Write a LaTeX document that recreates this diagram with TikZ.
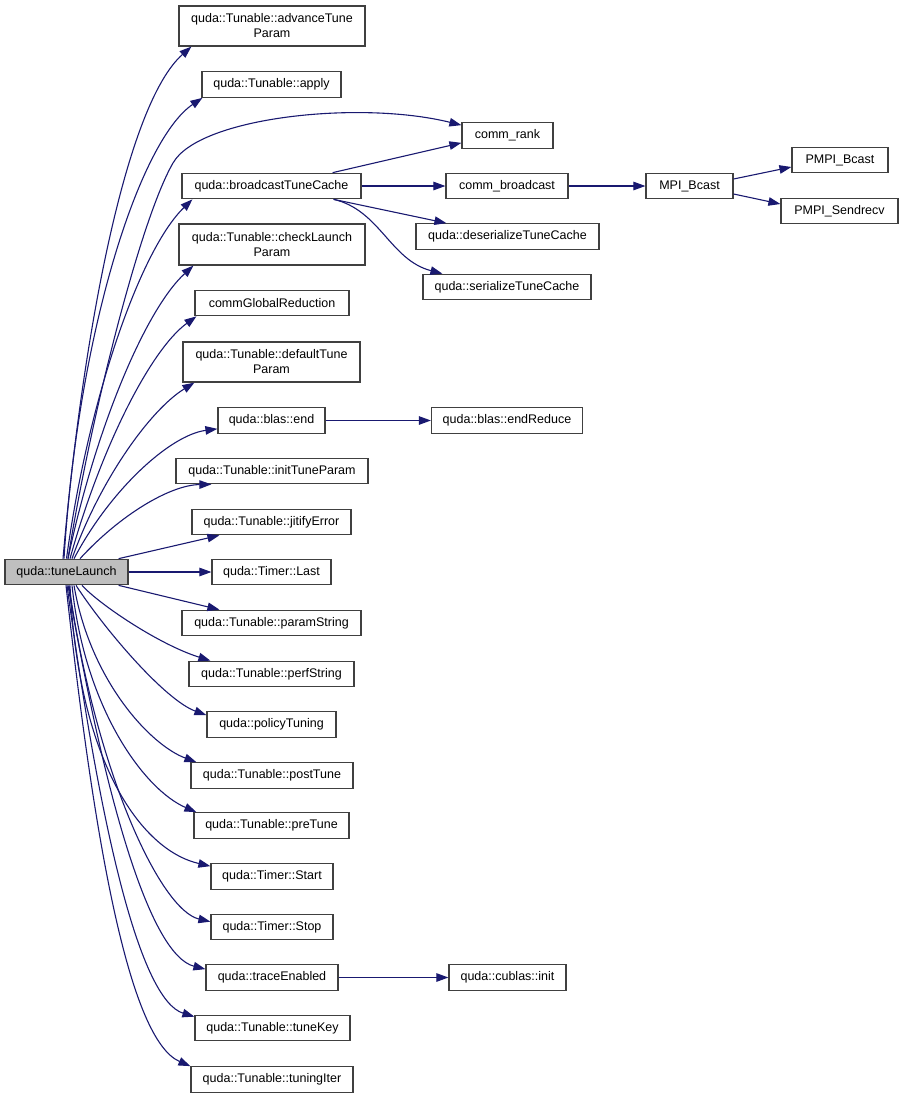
\documentclass[tikz,border=0pt]{standalone}
\usepackage{fontspec}
\setmainfont{Liberation Sans}
\usepackage{tikz}
\usetikzlibrary{arrows.meta}
\definecolor{edgeblue}{RGB}{25,25,112}

\begin{document}
\begin{tikzpicture}[x=1pt, y=-1pt,
  fn/.style = {draw=black!75, line width=1.2pt, rectangle, inner sep=0pt,
    minimum height=25.5pt, font=\fontsize{12.5}{15}\selectfont, align=center},
  calls/.style = {draw=edgeblue, line width=1.1pt, -{Triangle[length=12pt,width=8.5pt]}}]
\useasboundingbox (0,0) rectangle (903,1098);

% caller
\node[fn, fill=black!25, minimum width=123] (launch) at (66.5,572) {quda::tuneLaunch};

% callees
\node[fn, minimum width=186, minimum height=40] (advTune) at (272,26) {quda::Tunable::advanceTune\\Param};
\node[fn, minimum width=139] (apply) at (271.5,84.5) {quda::Tunable::apply};
\node[fn, minimum width=91] (commRank) at (507.5,135.5) {comm\_rank};
\node[fn, minimum width=179] (bcastCache) at (271.5,186) {quda::broadcastTuneCache};
\node[fn, minimum width=122] (commBcast) at (507,186) {comm\_broadcast};
\node[fn, minimum width=87] (mpiBcast) at (689.5,186) {MPI\_Bcast};
\node[fn, minimum width=96] (pmpiBcast) at (840,160) {PMPI\_Bcast};
\node[fn, minimum width=117] (pmpiSendrecv) at (839.5,211) {PMPI\_Sendrecv};
\node[fn, minimum width=183] (deserialize) at (507.5,236.5) {quda::deserializeTuneCache};
\node[fn, minimum width=168] (serialize) at (507,287) {quda::serializeTuneCache};
\node[fn, minimum width=186, minimum height=41] (checkLaunch) at (272,244.5) {quda::Tunable::checkLaunch\\Param};
\node[fn, minimum width=154] (commGlobal) at (272,303) {commGlobalReduction};
\node[fn, minimum width=177, minimum height=40] (defaultTune) at (271.5,362) {quda::Tunable::defaultTune\\Param};
\node[fn, minimum width=107] (blasEnd) at (271.5,420.5) {quda::blas::end};
\node[fn, minimum width=151] (endReduce) at (507,420.5) {quda::blas::endReduce};
\node[fn, minimum width=192] (initTune) at (272,471) {quda::Tunable::initTuneParam};
\node[fn, minimum width=159] (jitify) at (271.5,522) {quda::Tunable::jitifyError};
\node[fn, minimum width=119] (timerLast) at (271.5,572) {quda::Timer::Last};
\node[fn, minimum width=179] (paramString) at (271.5,623) {quda::Tunable::paramString};
\node[fn, minimum width=165] (perfString) at (271.5,674) {quda::Tunable::perfString};
\node[fn, minimum width=129] (policy) at (271.5,724.5) {quda::policyTuning};
\node[fn, minimum width=162] (postTune) at (272,775.5) {quda::Tunable::postTune};
\node[fn, minimum width=155] (preTune) at (271.5,825.5) {quda::Tunable::preTune};
\node[fn, minimum width=122] (timerStart) at (272,876.5) {quda::Timer::Start};
\node[fn, minimum width=122] (timerStop) at (272,927) {quda::Timer::Stop};
\node[fn, minimum width=132] (trace) at (272,977.5) {quda::traceEnabled};
\node[fn, minimum width=117] (cublasInit) at (507.5,977.5) {quda::cublas::init};
\node[fn, minimum width=155] (tuneKey) at (272.5,1028) {quda::Tunable::tuneKey};
\node[fn, minimum width=162] (tuningIter) at (272,1079.5) {quda::Tunable::tuningIter};

% calls going up
\draw[calls] ([xshift=-3.5pt]launch.north) .. controls (82,340) and (125,105) .. ([xshift=13pt]advTune.south west);
\draw[calls] ([xshift=-2.5pt]launch.north) .. controls (78,330) and (140,140) .. ([xshift=1pt]apply.south west);
\draw[calls] ([xshift=1.5pt]launch.north) .. controls (90,420) and (140,220) .. (173,163)
  .. controls (199,117) and (360,100) .. ([yshift=-3pt]commRank.north west);
\draw[calls] (launch.north) .. controls (88,400) and (140,250) .. ([xshift=11pt]bcastCache.south west);
\draw[calls] ([xshift=1.5pt]launch.north) .. controls (95,430) and (145,310) .. ([xshift=15pt]checkLaunch.south west);
\draw[calls] ([xshift=3.5pt]launch.north) .. controls (100,450) and (150,350) .. ([xshift=2pt]commGlobal.south west);
\draw[calls] ([xshift=5.5pt]launch.north) .. controls (100,480) and (150,410) .. ([xshift=12pt]defaultTune.south west);
\draw[calls] ([xshift=7.5pt]launch.north) .. controls (110,490) and (170,435) .. ([yshift=5pt]blasEnd.south west);
\draw[calls] ([xshift=13.5pt]launch.north) .. controls (120,515) and (170,485) .. ([xshift=36pt]initTune.south west);
\draw[calls] ([xshift=-10pt]launch.north east) -- ([xshift=28pt]jitify.south west);

\draw[calls] (launch.east) -- (timerLast.west);

% calls going down
\draw[calls] ([xshift=-10pt]launch.south east) -- ([xshift=38pt]paramString.north west);
\draw[calls] ([xshift=15.5pt]launch.south) .. controls (100,605) and (160,645) .. ([xshift=22pt]perfString.north west);
\draw[calls] ([xshift=9.5pt]launch.south) .. controls (105,630) and (165,700) .. ([yshift=-4pt]policy.north west);
\draw[calls] ([xshift=7.5pt]launch.south) .. controls (90,680) and (150,745) .. ([xshift=6pt]postTune.north west);
\draw[calls] ([xshift=5.5pt]launch.south) .. controls (85,710) and (145,790) .. ([xshift=3pt]preTune.north west);
\draw[calls] ([xshift=3.5pt]launch.south) .. controls (78,760) and (140,850) .. ([yshift=-3pt]timerStart.north west);
\draw[calls] ([xshift=2.5pt]launch.south) .. controls (95,770) and (160,910) .. ([yshift=-8pt]timerStop.north west);
\draw[calls] ([xshift=1.5pt]launch.south) .. controls (105,800) and (150,955) .. ([yshift=-5pt]trace.north west);
\draw[calls] ([xshift=0.5pt]launch.south) .. controls (100,830) and (140,1000) .. ([yshift=-2pt]tuneKey.north west);
\draw[calls] ([xshift=-0.5pt]launch.south) .. controls (95,850) and (130,1040) .. (tuningIter.north west);

% second level
\draw[calls] ([xshift=-29pt]bcastCache.north east) -- ([yshift=6pt]commRank.south west);
\draw[calls] (bcastCache.east) -- (commBcast.west);
\draw[calls] ([xshift=-28pt]bcastCache.south east) -- ([xshift=31pt]deserialize.north west);
\draw[calls] ([xshift=-28pt]bcastCache.south east) .. controls (380,210) and (390,260) .. ([xshift=20pt]serialize.north west);
\draw[calls] (commBcast.east) -- (mpiBcast.west);
\draw[calls] ([yshift=7pt]mpiBcast.east) -- ([yshift=-7pt]pmpiBcast.west);
\draw[calls] ([yshift=-8pt]mpiBcast.east) -- ([yshift=7pt]pmpiSendrecv.west);
\draw[calls] (blasEnd.east) -- (endReduce.west);
\draw[calls] (trace.east) -- (cublasInit.west);
\end{tikzpicture}
\end{document}
